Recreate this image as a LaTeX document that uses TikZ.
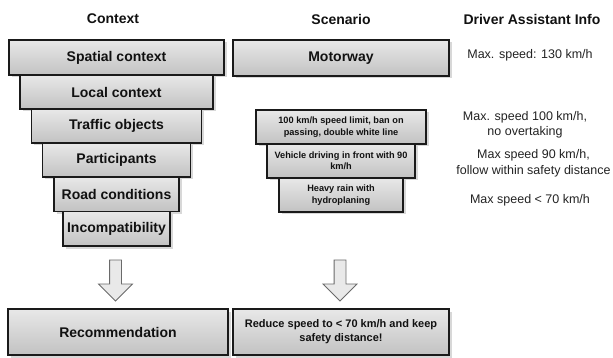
\documentclass[tikz,border=0pt]{standalone}
\usepackage{fontspec}
\setmainfont{Liberation Sans}
\usetikzlibrary{positioning,shadows,shapes.arrows}
\definecolor{boxInk}{HTML}{111111}
\definecolor{boxLine}{HTML}{1A1A1A}
\definecolor{boxTop}{HTML}{E8E8E8}
\definecolor{boxBottom}{HTML}{C2C2C2}
\definecolor{arrowFill}{HTML}{E9E9E9}
\definecolor{arrowLine}{HTML}{6A6A6A}
\definecolor{infoInk}{HTML}{222222}
\tikzset{
  layerBox/.style={
    draw=boxLine,
    top color=boxTop,
    bottom color=boxBottom,
    line width=1.1pt,
    outer sep=0pt,
    inner sep=2pt,
    align=center,
    text=boxInk,
    drop shadow={shadow xshift=2.5pt, shadow yshift=-2.5pt, fill=black!30}
  },
  bigText/.style={font=\fontsize{14}{16}\selectfont\bfseries},
  smallText/.style={font=\fontsize{9.2}{11.5}\selectfont\bfseries},
  colTitle/.style={font=\fontsize{14}{16}\selectfont\bfseries, text=boxInk},
  infoNote/.style={font=\fontsize{12.5}{15.5}\selectfont, text=infoInk, align=center},
  flowArrow/.style={
    single arrow, draw=arrowLine, fill=arrowFill, line width=0.8pt,
    shape border rotate=270, inner sep=5.5pt, minimum height=41pt,
    single arrow head extend=11pt
  }
}

\begin{document}
\begin{tikzpicture}[x=1pt, y=-1pt]
    \useasboundingbox (0,0) rectangle (613,358);

    % column headers
    \node[colTitle] (ctxTitle) at (113,19) {Context};
    \node[colTitle] (scnTitle) at (341,19) {Scenario};
    \node[colTitle] (infoTitle) at (532,19) {Driver Assistant Info};

    % context funnel
    \node[layerBox, bigText, minimum width=215pt, minimum height=35pt]
      (spatial) at (116.5,57.5) {Spatial context};
    \node[layerBox, bigText, below=0pt of spatial, minimum width=193pt,
      minimum height=34pt] (local) {Local context};
    \node[layerBox, bigText, below=0pt of local, minimum width=170pt,
      minimum height=34pt] (traffic) {Traffic objects};
    \node[layerBox, bigText, below=0pt of traffic, minimum width=148pt,
      minimum height=34pt] (participants) {Participants};
    \node[layerBox, bigText, below=0pt of participants, minimum width=125pt,
      minimum height=34.5pt] (roadcond) {Road conditions};
    \node[layerBox, bigText, below=0pt of roadcond, minimum width=107pt,
      minimum height=34.5pt] (incompat) {Incompatibility};

    % scenario column
    \node[layerBox, bigText, minimum width=216pt, minimum height=36pt]
      (motorway) at (341,58) {Motorway};
    \node[layerBox, smallText, minimum width=170pt, minimum height=34pt]
      (speedlimit) at (341,127) {100 km/h speed limit, ban on\\passing, double white line};
    \node[layerBox, smallText, below=0pt of speedlimit, minimum width=148pt,
      minimum height=34pt] (leadcar) {Vehicle driving in front with 90\\km/h};
    \node[layerBox, smallText, below=0pt of leadcar, minimum width=124pt,
      minimum height=34pt] (heavyrain) {Heavy rain with\\hydroplaning};

    % assistant info
    \node[infoNote] (infoMotorway) at (530,55) {Max. speed: 130 km/h};
    \node[infoNote] (infoLimit) at (525,125) {Max. speed 100 km/h,\\no overtaking};
    \node[infoNote] (infoLead) at (533.5,163.5) {Max speed 90 km/h,\\follow within safety distance};
    \node[infoNote] (infoRain) at (530,200) {Max speed < 70 km/h};

    % result
    \node[flowArrow] (ctxArrow) at (115.5,277.5) {};
    \node[flowArrow] (scnArrow) at (340,277.5) {};
    \node[layerBox, bigText, minimum width=220pt, minimum height=46pt]
      (recommend) at (118,332) {Recommendation};
    \node[layerBox, font=\fontsize{11}{14}\selectfont\bfseries,
      minimum width=216pt, minimum height=46pt]
      (reduce) at (341,332) {Reduce speed to < 70 km/h and keep\\safety distance!};
\end{tikzpicture}
\end{document}
